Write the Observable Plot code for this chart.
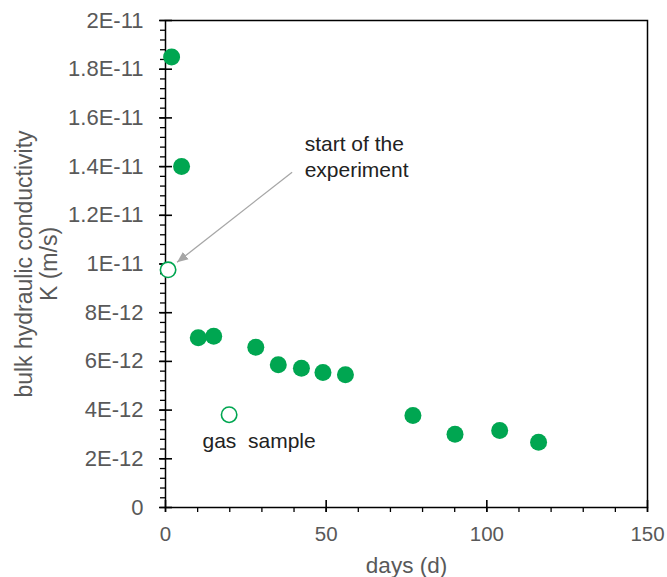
<!DOCTYPE html>
<html>
<head>
<meta charset="utf-8">
<script src="https://cdn.jsdelivr.net/npm/d3@7"></script>
<script src="https://cdn.jsdelivr.net/npm/@observablehq/plot@0.6"></script>
<style>
  html, body { margin: 0; padding: 0; background: #fff; }
  #chart svg { display: block; }
</style>
</head>
<body>
<div id="chart"></div>
<script>
// ---- data ----
const days = [1.9, 5.0, 10.2, 15.0, 28.1, 35.1, 42.3, 49.0, 56.0, 77.0, 90.1, 104.0, 116.1];
const conductivity = [1.85e-11, 1.40e-11, 6.97e-12, 7.03e-12, 6.58e-12, 5.86e-12, 5.72e-12, 5.54e-12, 5.45e-12, 3.78e-12, 3.01e-12, 3.16e-12, 2.68e-12];
const openDays = [0.8, 19.8];
const openConductivity = [9.76e-12, 3.81e-12];

const xTicks = [0, 50, 100, 150];
const xTickLabels = ["0", "50", "100", "150"];
const xMinorTicks = [0, 10, 20, 30, 40, 50, 60, 70, 80, 90, 100, 110, 120, 130, 140, 150];
const yTicks = [0, 2e-12, 4e-12, 6e-12, 8e-12, 1e-11, 1.2e-11, 1.4e-11, 1.6e-11, 1.8e-11, 2e-11];
const yTickLabels = ["0", "2E-12", "4E-12", "6E-12", "8E-12", "1E-11", "1.2E-11", "1.4E-11", "1.6E-11", "1.8E-11", "2E-11"];
const yMinorTicks = d3.range(0, 51).map(i => i * 0.4e-12);

const annotationTexts = ["start of the\nexperiment", "gas  sample"];
const annotationX = [43.3, 11.5];
const annotationY = [15.36e-12, 3.16e-12];
const arrowFrom = [39.4, 13.77e-12];
const arrowTo = [3.6, 10.07e-12];

const xLabel = "days (d)";
const yLabel = "bulk hydraulic conductivity\nK (m/s)";

// ---- build tables ----
const filled = days.map((d, i) => ({day: d, K: conductivity[i]}));
const open = openDays.map((d, i) => ({day: d, K: openConductivity[i]}));
const notes = annotationTexts.map((t, i) => ({text: t, day: annotationX[i], K: annotationY[i]}));
const arrows = [{x1: arrowFrom[0], y1: arrowFrom[1], x2: arrowTo[0], y2: arrowTo[1]}];

const green = "#00a651";
const tickGray = "#595959";
const font = "'Liberation Sans', Arial, Helvetica, sans-serif";

function triangleHead(color) {
  const m = d3.create("svg:marker")
    .attr("viewBox", "-10 -5 10 10")
    .attr("markerWidth", 11)
    .attr("markerHeight", 11)
    .attr("markerUnits", "userSpaceOnUse")
    .attr("orient", "auto")
    .attr("fill", color)
    .attr("stroke", "none");
  m.append("path").attr("d", "M-10,-4.2L0,0L-10,4.2Z");
  return m.node();
}

const chart = Plot.plot({
  width: 667,
  height: 577,
  marginLeft: 165,
  marginRight: 20,
  marginTop: 20,
  marginBottom: 70,
  style: {fontFamily: font, background: "#fff", overflow: "visible"},
  x: {domain: [0, 150]},
  y: {domain: [0, 2e-11]},
  marks: [
    // minor ticks (outside)
    Plot.axisY({ticks: yMinorTicks, tickSize: 5, fill: "none", stroke: "black", strokeWidth: 1.3, label: null}),
    Plot.axisX({ticks: xMinorTicks, tickSize: 5, fill: "none", stroke: "black", strokeWidth: 1.3, label: null}),
    // major ticks crossing the axis
    Plot.axisY({ticks: yTicks, tickSize: 13, dx: 7, fill: "none", stroke: "black", strokeWidth: 1.6, label: null}),
    Plot.axisX({ticks: xTicks, tickSize: 12, dy: -7, fill: "none", stroke: "black", strokeWidth: 1.6, label: null}),
    // tick labels
    Plot.axisY({ticks: yTicks, tickFormat: (d) => yTickLabels[yTicks.indexOf(d)], tickSize: 0, tickPadding: 22,
      fontSize: 22, fill: tickGray, stroke: "none", label: null}),
    Plot.axisX({ticks: xTicks, tickFormat: (d) => xTickLabels[xTicks.indexOf(d)], tickSize: 0, tickPadding: 19,
      fontSize: 20.5, fill: tickGray, stroke: "none", label: null}),
    Plot.frame({stroke: "black", strokeWidth: 1.5}),
    // axis titles
    Plot.text([yLabel], {frameAnchor: "left", dx: -129, rotate: -90, textAnchor: "middle", fontSize: 23, fill: tickGray, lineHeight: 1.1, lineAnchor: "middle"}),
    Plot.text([xLabel], {frameAnchor: "bottom", dy: 58, textAnchor: "middle", fontSize: 22.5, fill: tickGray, lineAnchor: "middle"}),
    // annotation arrow
    Plot.link(arrows, {x1: "x1", y1: "y1", x2: "x2", y2: "y2", stroke: "#a6a6a6", strokeWidth: 1.3, markerEnd: triangleHead}),
    // annotation texts
    Plot.text(notes, {x: "day", y: "K", text: "text", textAnchor: "start", lineAnchor: "top", fontSize: 21, fill: "#222", lineHeight: 1.2}),
    // data points
    Plot.dot(filled, {x: "day", y: "K", r: 8.5, fill: green, stroke: "none"}),
    Plot.dot(open, {x: "day", y: "K", r: 7.7, fill: "white", stroke: green, strokeWidth: 1.6})
  ]
});
document.getElementById("chart").appendChild(chart);
</script>
</body>
</html>
